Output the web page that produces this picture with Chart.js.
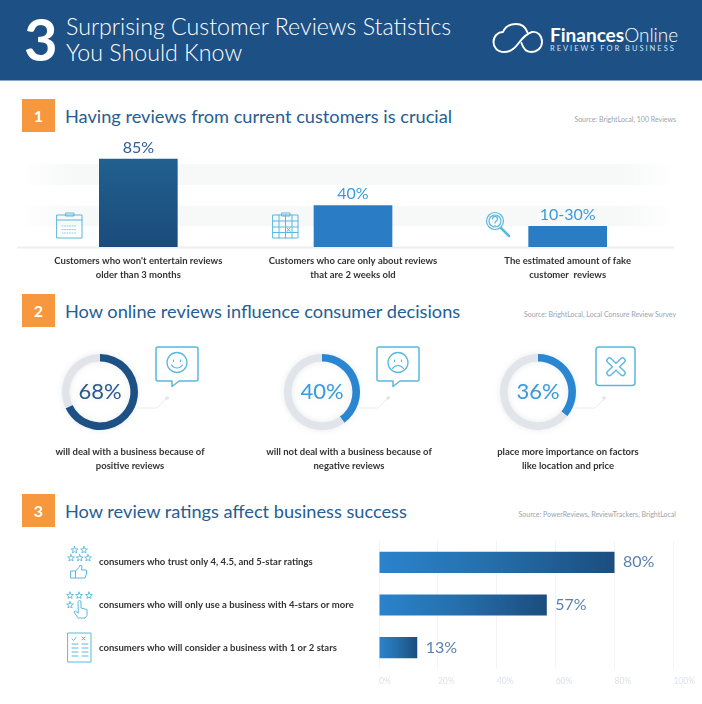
<!DOCTYPE html>
<html><head><meta charset="utf-8">
<script src="https://cdn.jsdelivr.net/npm/chart.js@4"></script>
<style>
html,body{margin:0;padding:0;background:#fff}
#page{position:relative;width:702px;height:704px;overflow:hidden;font-family:Lato,sans-serif;background:#fff}
#page>*{position:absolute}
#hdr{left:0;top:0;width:702px;height:80px;background:#1d5085;border-bottom:1px solid #8ba6c5}
.t{white-space:nowrap;line-height:1}
.big{left:24px;top:10px;font-size:58px;font-weight:700;color:#fff}
.ht{left:66px;font-size:23.2px;font-weight:300;color:#fff}
.sq{left:22px;width:33px;height:33px;background:#f7983f;color:#fff;font-size:16px;font-weight:700;line-height:33px;text-align:center}
.h2{left:65px;font-size:18.2px;color:#255d94}
.src{right:26px;font-size:7px;color:#9aa3ad}
.cap{font-size:9.5px;font-weight:700;color:#333;text-align:center;transform:translateX(-50%)}
canvas{position:absolute}
#icons{left:0;top:0;width:702px;height:704px;pointer-events:none}
</style></head><body>
<div id="page">
<div id="hdr"></div>
<div class="t big">3</div>
<div class="t ht" style="top:15px">Surprising Customer Reviews Statistics</div>
<div class="t ht" style="top:41px">You Should Know</div>
<div class="t" style="left:550px;top:25px;font-size:19px;color:#fff;font-weight:700">Finances<span style="font-weight:300">Online</span></div>
<div class="t" style="left:550px;top:45px;font-size:7.500px;color:#d5e0ec;font-weight:400;letter-spacing:2px">REVIEWS FOR BUSINESS</div>

<div class="sq" style="top:99px">1</div>
<div class="t h2" style="top:107px">Having reviews from current customers is crucial</div>
<div class="t src" style="top:116px">Source: BrightLocal, 100 Reviews</div>
<div class="sq" style="top:294px">2</div>
<div class="t h2" style="top:302px">How online reviews influence consumer decisions</div>
<div class="t src" style="top:311px">Source: BrightLocal, Local Consure Review Survey</div>
<div class="sq" style="top:494px">3</div>
<div class="t h2" style="top:502px">How review ratings affect business success</div>
<div class="t src" style="top:511px">Source: PowerReviews, ReviewTrackers, BrightLocal</div>

<canvas id="top" width="702" height="160" style="left:0;top:130px;width:702px;height:160px"></canvas>
<canvas id="d0" width="100" height="100" style="left:50px;top:342px;width:100px;height:100px;filter:drop-shadow(0 0 3px rgba(60,80,100,.12))"></canvas>
<canvas id="d1" width="100" height="100" style="left:271.5px;top:342px;width:100px;height:100px;filter:drop-shadow(0 0 3px rgba(60,80,100,.12))"></canvas>
<canvas id="d2" width="100" height="100" style="left:487.5px;top:342px;width:100px;height:100px;filter:drop-shadow(0 0 3px rgba(60,80,100,.12))"></canvas>
<canvas id="bars" width="702" height="174" style="left:0;top:530px;width:702px;height:174px"></canvas>

<div class="t cap" id="c0" style="left:130px;top:445px;line-height:14px"></div>
<div class="t cap" id="c1" style="left:349px;top:445px;line-height:14px"></div>
<div class="t cap" id="c2" style="left:568px;top:445px;line-height:14px"></div>

<svg id="icons" viewBox="0 0 702 704" fill="none" stroke="#5bb8de" stroke-width="1.2" stroke-linejoin="round" stroke-linecap="round">
<defs><polygon id="s" points="0,-3.4 1,-1.1 3.4,-1 1.500,.5 2.100,2.900 0,1.600 -2.100,2.900 -1.500,.5 -3.400,-1 -1,-1.100"/></defs>
<g stroke="#fff" stroke-width="1.900"><path d="M513 49C510 51.500 507 52 504 52C497 52 493.500 47 493.500 42C493.500 36 498 32 503 32C505 27 510 24 516 24C522 24 526 28 527.500 32.500"/><path d="M513 49C519 45 522 35 532 32C538 31 542 36 542 42C542 48 537 52 531 52C526 52 523 48 521.500 43"/></g>
<g stroke-width="1"><rect x="57" y="215" width="25" height="23"/><path d="M57 220h25M66 213h8v3h-8z"/><path d="M62 226h15M62 229.500h15M62 233h15" stroke-dasharray="1 1.500" stroke="#9cc9dd"/></g>
<g stroke-width="1"><rect x="273" y="215" width="25" height="23"/><path d="M273 221h25M273 227h25M273 232.500h25M279 215v23M285.500 215v23M292 215v23M282 213h8v3h-8z"/><path d="M287 228l3 3.500M290 228l-3 3.500"/></g>
<g stroke-width="1.200"><circle cx="495" cy="221" r="8.500"/><circle cx="495" cy="221" r="6"/><path d="M501 228l8 8" stroke-width="2.500"/><path d="M492.500 219c0-3.500 5-3.500 5 0 0 2-2.500 2-2.500 4M495 225.500v.5"/></g>
<g stroke="#e9ecef" stroke-width="1"><path d="M138 408h19l9-9"/><path d="M360 408h18l9-9"/><path d="M575 408h20l9-9"/></g>
<g stroke="#d9dee2" stroke-width="1" fill="#fff"><circle cx="167" cy="398" r="1.300"/><circle cx="388" cy="398" r="1.300"/><circle cx="604" cy="398" r="1.300"/></g>
<path d="M158 347h38a2 2 0 0 1 2 2v30a2 2 0 0 1-2 2h-17l-7 5.500v-5.500h-14a2 2 0 0 1-2-2v-30a2 2 0 0 1 2-2z" stroke-width="1.500"/>
<circle cx="177" cy="362.500" r="10" stroke-width="1.300"/><path d="M173.500 360v1.500M180.500 360v1.500M171.500 365c3 4 8 4 11 0"/>
<path d="M379 347h38a2 2 0 0 1 2 2v30a2 2 0 0 1-2 2h-17l-7 5.500v-5.500h-14a2 2 0 0 1-2-2v-30a2 2 0 0 1 2-2z" stroke-width="1.500"/>
<circle cx="398" cy="362.500" r="10" stroke-width="1.300"/><path d="M394.500 360v1.500M401.500 360v1.500M392.500 368.500c3-4 8-4 11 0"/>
<rect x="596" y="347" width="39" height="38.500" rx="3" stroke-width="1.500"/>
<path d="M609.500 360.500l13 12.500M622.500 360.500l-13 12.500" stroke-width="6.500"/><path d="M609.500 360.500l13 12.500M622.500 360.500l-13 12.500" stroke="#fff" stroke-width="3.800"/>
<g stroke-width=".9"><use href="#s" x="74.500" y="550"/><use href="#s" x="84" y="550"/><use href="#s" x="71" y="558"/><use href="#s" x="79.700" y="558"/><use href="#s" x="88" y="558"/></g>
<path d="M71 571h4.500v7H71zM75.500 571l4-4 .5-2 2 1-.5 4h5v4l-1.500 4h-9.500" stroke-width="1"/>
<g stroke-width=".9"><use href="#s" x="70" y="595.500"/><use href="#s" x="79" y="595.500"/><use href="#s" x="89" y="595.500"/><use href="#s" x="70" y="605"/></g>
<path d="M78 602a1.500 1.500 0 0 1 3 0v6l6 1.500v6l-2 2.500h-7l-4-6 1.500-1 2.500 2z" stroke-width="1"/>
<g stroke-width="1"><rect x="68" y="633" width="23" height="29"/><path d="M72 639l1.500 1.500 2.500-3M82 637l3 3M85 637l-3 3M72 644h6M82 644h6M72 648h6M82 648h6M72 652h6M82 652h6M72 656h6M82 656h6"/></g>
</svg>
</div>
<script>
// ---- data ----
const topCategories = [["Customers who won't entertain reviews","older than 3 months"],["Customers who care only about reviews","that are 2 weeks old"],["The estimated amount of fake","customer  reviews"]];
const topValues = [85, 40, 20];
const topValueLabels = ["85%", "40%", "10-30%"];
const donutValues = [68, 40, 36];
const donutCaptions = [["will deal with a business because of","positive reviews"],["will not deal with a business because of","negative reviews"],["place more importance on factors","like location and price"]];
const ratingCategories = ["consumers who trust only 4, 4.5, and 5-star ratings","consumers who will only use a business with 4-stars or more","consumers who will consider a business with 1 or 2 stars"];
const ratingValues = [80, 57, 13];
const ratingTicks = [0, 20, 40, 60, 80, 100];
// ---------------
Chart.defaults.font.family = 'Lato, sans-serif';
Chart.defaults.animation = false;
Chart.defaults.responsive = false;
Chart.defaults.plugins.legend.display = false;
Chart.defaults.plugins.tooltip.enabled = false;

donutCaptions.forEach((c,i)=>{document.getElementById('c'+i).innerHTML=c.join('<br>');});

const bandsPlugin = {id:'bands', beforeDatasetsDraw(ch){
  const {ctx,scales:{x,y}} = ch;
  const L = x.left-8, R = x.right-3;
  [[20,40],[60,80]].forEach(([a,b])=>{
    const g = ctx.createLinearGradient(L,0,R,0);
    g.addColorStop(0,'rgba(246,247,248,0)');g.addColorStop(.08,'#f7f8f8');g.addColorStop(.92,'#f7f8f8');g.addColorStop(1,'rgba(246,247,248,0)');
    ctx.fillStyle=g; ctx.fillRect(L,y.getPixelForValue(b),R-L,y.getPixelForValue(a)-y.getPixelForValue(b));
  });
  ctx.fillStyle='#eceef0';
  ctx.fillRect(x.left-14,y.getPixelForValue(0)-.5,x.right-x.left+13,2);
}};
const topLabelPlugin = {id:'toplbl', afterDatasetsDraw(ch){
  const {ctx}=ch, m=ch.getDatasetMeta(0);
  ctx.save();ctx.textAlign='center';ctx.textBaseline='middle';ctx.font='400 16px Lato';
  m.data.forEach((b,i)=>{ctx.fillStyle=i?'#3a9bdb':'#2d5d94';ctx.fillText(topValueLabels[i],b.x,b.y-11.5);});
  ctx.restore();
}};
new Chart(document.getElementById('top'),{
  type:'bar',
  data:{labels:topCategories,datasets:[{data:topValues,barThickness:78,
    backgroundColor(c){
      if(c.dataIndex!==0) return '#2a7cc4';
      const ch=c.chart,y=ch.scales.y;
      if(!ch.chartArea||!y||!isFinite(y.getPixelForValue(85))) return '#1f5a8f';
      const g=ch.ctx.createLinearGradient(0,y.getPixelForValue(85),0,y.getPixelForValue(0));
      g.addColorStop(0,'#20608f');g.addColorStop(1,'#1b4b7c');return g;
    }}]},
  options:{
    layout:{padding:{left:31,right:27,top:13.5,bottom:0}},
    scales:{
      x:{grid:{display:false,drawTicks:false},border:{display:false},afterFit(s){s.height=43;},
         ticks:{color:'#333',font:{size:9.5,weight:700,lineHeight:14/9.5},padding:7,maxRotation:0,autoSkip:false}},
      y:{display:false,min:0,max:100}
    }
  },
  plugins:[bandsPlugin,topLabelPlugin]
});

const donutColors=['#1d5085','#2a86d0','#2a86d0'], donutText=['#2b5a8f','#3a9bdb','#3a9bdb'];
donutValues.forEach((v,i)=>{
  new Chart(document.getElementById('d'+i),{
    type:'doughnut',
    data:{labels:['share','rest'],datasets:[{data:[v,100-v],backgroundColor:[donutColors[i],'#e1e5e9'],borderWidth:0}]},
    options:{radius:38,cutout:'80%'},
    plugins:[{id:'ctr',afterDatasetsDraw(ch){
      const {ctx,chartArea:a}=ch;ctx.save();ctx.textAlign='center';ctx.textBaseline='middle';
      ctx.font='400 22px Lato';ctx.fillStyle=donutText[i];
      ctx.fillText(v+'%',(a.left+a.right)/2,(a.top+a.bottom)/2);ctx.restore();
    }}]
  });
});

new Chart(document.getElementById('bars'),{
  type:'bar',
  data:{labels:ratingCategories,datasets:[{data:ratingValues,barPercentage:.495,categoryPercentage:1,
    backgroundColor(c){
      const ch=c.chart,x=ch.scales.x;
      if(!ch.chartArea||!x||!isFinite(x.getPixelForValue(0))||!isFinite(x.getPixelForValue(c.raw))) return '#2a7cc4';
      const g=ch.ctx.createLinearGradient(x.getPixelForValue(0),0,x.getPixelForValue(c.raw),0);
      g.addColorStop(0,'#2b83cc');g.addColorStop(.45,'#2570ad');g.addColorStop(1,'#1c4d7f');return g;
    }}]},
  options:{
    indexAxis:'y',
    layout:{padding:{left:99,right:27,top:11,bottom:13}},
    scales:{
      x:{min:0,max:100,afterBuildTicks(s){s.ticks=ratingTicks.map(v=>({value:v}));},
         afterFit(s){s.height=22;},
         grid:{color:'#f2f4f5',drawTicks:false},border:{display:false},
         ticks:{color:'#dde2e6',font:{size:8.5},align:'start',padding:7,maxRotation:0,autoSkip:false,callback:v=>v+'%'}},
      y:{afterFit(s){s.width=280;},grid:{display:false},border:{display:false},
         ticks:{crossAlign:'far',color:'#333',font:{size:9.5,weight:700},autoSkip:false}}
    }
  },
  plugins:[{id:'rl',afterDatasetsDraw(ch){
    const {ctx}=ch,m=ch.getDatasetMeta(0);
    ctx.save();ctx.textAlign='left';ctx.textBaseline='middle';ctx.font='400 16px Lato';ctx.fillStyle='#5a81ae';
    m.data.forEach((b,i)=>ctx.fillText(ratingValues[i]+'%',b.x+8.5,b.y));ctx.restore();
  }}]
});
</script>
</body></html>
